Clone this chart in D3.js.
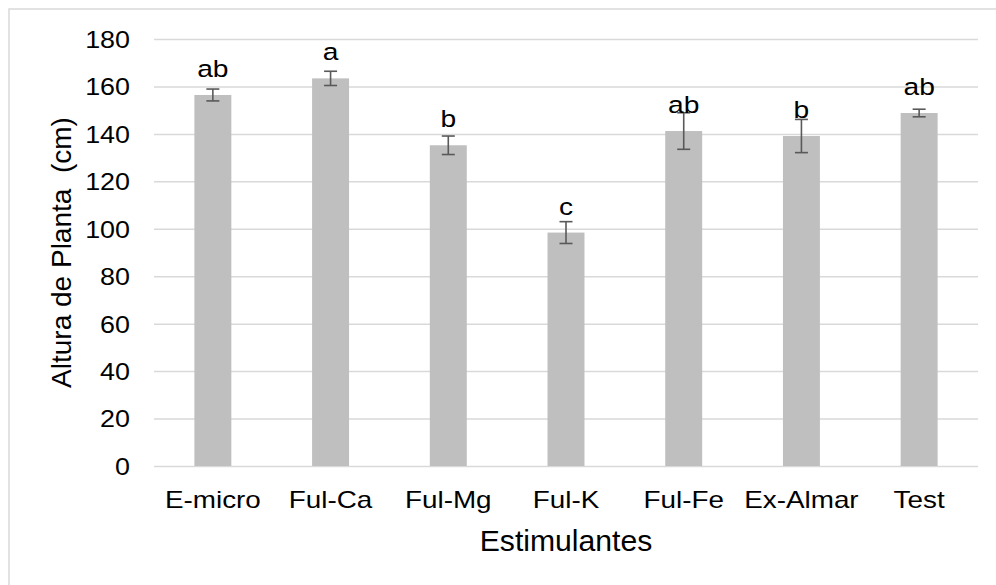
<!DOCTYPE html>
<html>
<head>
<meta charset="utf-8">
<script src="https://cdn.jsdelivr.net/npm/d3@7"></script>
<style>
  html, body { margin: 0; padding: 0; background: #fff; }
  svg { display: block; font-family: "Liberation Sans", Arial, sans-serif; }
  svg text { white-space: pre; }
</style>
</head>
<body>
<svg id="chart" width="996" height="585"></svg>
<script>
// Plant height by stimulant treatment (mean ± error), with significance letters
const categories = ["E-micro", "Ful-Ca", "Ful-Mg", "Ful-K", "Ful-Fe", "Ex-Almar", "Test"];
const heights    = [156.4, 163.4, 135.2, 98.4, 141.2, 139.1, 148.8];
const errors     = [2.5, 3.0, 3.9, 4.6, 7.7, 7.0, 1.6];
const letters    = ["ab", "a", "b", "c", "ab", "b", "ab"];
const yTicks     = [0, 20, 40, 60, 80, 100, 120, 140, 160, 180];
const xTitle = "Estimulantes";
const yTitle = "Altura de Planta  (cm)";

const svg = d3.select("#chart");
const plot = { left: 154, right: 978, top: 39, bottom: 466 };

// Outer chart frame
svg.append("rect")
  .attr("x", 9).attr("y", 9)
  .attr("width", 1000).attr("height", 600)
  .attr("fill", "none")
  .attr("stroke", "#d9d9d9")
  .attr("stroke-width", 1.5);

const x = d3.scaleBand()
  .domain(categories)
  .range([plot.left, plot.right])
  .paddingInner(0.686)
  .paddingOuter(0.343);

const y = d3.scaleLinear()
  .domain([0, 180])
  .range([plot.bottom, plot.top]);

// Horizontal gridlines + y tick labels via the axis generator
const yAxis = d3.axisLeft(y)
  .tickValues(yTicks)
  .tickSize(-(plot.right - plot.left))
  .tickPadding(24)
  .tickFormat(d3.format("d"));

const gy = svg.append("g")
  .attr("transform", `translate(${plot.left},0)`)
  .call(yAxis);
gy.select(".domain").remove();
gy.selectAll(".tick line")
  .attr("stroke", "#d9d9d9")
  .attr("stroke-width", 1.5);
gy.selectAll(".tick text")
  .attr("fill", "#000")
  .attr("font-size", 24)
  .attr("dy", "0.35em")
  .attr("transform", function () {
    const tx = +d3.select(this).attr("x");
    d3.select(this).attr("x", 0);
    return `translate(${tx},0) scale(1.12,1)`;
  });

// Bars
svg.append("g").selectAll("rect")
  .data(categories)
  .join("rect")
  .attr("x", d => x(d))
  .attr("width", x.bandwidth())
  .attr("y", (d, i) => y(heights[i]))
  .attr("height", (d, i) => y(0) - y(heights[i]))
  .attr("fill", "#bfbfbf");

// Error bars
const capHalf = 6.5;
const eb = svg.append("g")
  .attr("stroke", "#595959")
  .attr("stroke-width", 1.6)
  .selectAll("g")
  .data(categories)
  .join("g");
eb.append("line")
  .attr("x1", d => x(d) + x.bandwidth() / 2)
  .attr("x2", d => x(d) + x.bandwidth() / 2)
  .attr("y1", (d, i) => y(heights[i] - errors[i]))
  .attr("y2", (d, i) => y(heights[i] + errors[i]));
eb.append("line")
  .attr("x1", d => x(d) + x.bandwidth() / 2 - capHalf)
  .attr("x2", d => x(d) + x.bandwidth() / 2 + capHalf)
  .attr("y1", (d, i) => y(heights[i] + errors[i]))
  .attr("y2", (d, i) => y(heights[i] + errors[i]));
eb.append("line")
  .attr("x1", d => x(d) + x.bandwidth() / 2 - capHalf)
  .attr("x2", d => x(d) + x.bandwidth() / 2 + capHalf)
  .attr("y1", (d, i) => y(heights[i] - errors[i]))
  .attr("y2", (d, i) => y(heights[i] - errors[i]));

// Significance letters above each bar
svg.append("g").selectAll("text")
  .data(categories)
  .join("text")
  .attr("text-anchor", "middle")
  .attr("font-size", 23.5)
  .attr("fill", "#000")
  .attr("transform", (d, i) =>
    `translate(${x(d) + x.bandwidth() / 2},${y(heights[i]) - 18}) scale(1.2,1)`)
  .text((d, i) => letters[i]);

// Category labels
const xAxis = d3.axisBottom(x).tickSize(0).tickPadding(0);
const gx = svg.append("g")
  .attr("transform", `translate(0,${plot.bottom})`)
  .call(xAxis);
gx.select(".domain").remove();
gx.selectAll(".tick text")
  .attr("fill", "#000")
  .attr("font-size", 24)
  .attr("y", 0).attr("dy", 0)
  .attr("transform", "translate(0,42) scale(1.16,1)");

// Axis titles
svg.append("text")
  .attr("text-anchor", "middle")
  .attr("font-size", 29)
  .attr("fill", "#000")
  .attr("transform", `translate(${(plot.left + plot.right) / 2},551) scale(1.04,1)`)
  .text(xTitle);

svg.append("text")
  .attr("text-anchor", "middle")
  .attr("font-size", 28)
  .attr("fill", "#000")
  .attr("transform", `translate(71,${(plot.top + plot.bottom) / 2}) rotate(-90)`)
  .text(yTitle);
</script>
</body>
</html>
